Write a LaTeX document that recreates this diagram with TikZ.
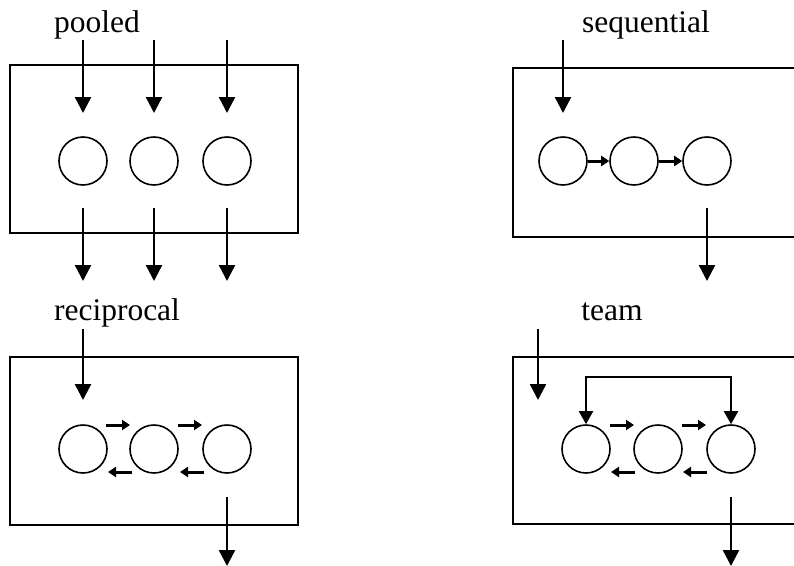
\documentclass[tikz,border=0pt]{standalone}
\usepackage{fontspec}
\setmainfont{Liberation Serif}
\usetikzlibrary{arrows.meta}
\begin{document}
\begin{tikzpicture}[x=1pt,y=-1pt,
  frame/.style={draw,line width=1.8pt},
  unit/.style={draw,circle,line width=1.6pt,minimum size=48pt,inner sep=0pt},
  flow/.style={line width=2.4pt,-{Triangle[width=16pt,length=16pt]}},
  link/.style={line width=3pt,-{Triangle[width=10pt,length=8pt]}},
  loop/.style={line width=2pt,{Triangle[width=14pt,length=13pt]}-{Triangle[width=14pt,length=13pt]}},
  title/.style={anchor=base,font=\fontsize{31.5}{36}\selectfont}]
\useasboundingbox (0,0) rectangle (794,565);
\clip (0,0) rectangle (794,565);

% ---------- pooled ----------
\node[title] (tp) at (97,32) {pooled};
\draw[frame] (10,65) rectangle (298,233);
\foreach \i/\x in {1/83,2/154,3/227}{
  \node[unit] (p\i) at (\x,161) {};
  \coordinate (pa\i) at (\x,40);  \coordinate (pb\i) at (\x,113);
  \coordinate (pc\i) at (\x,208); \coordinate (pd\i) at (\x,281);
  \draw[flow] (pa\i) -- (pb\i);
  \draw[flow] (pc\i) -- (pd\i);
}

% ---------- sequential ----------
\node[title] (ts) at (646,32) {sequential};
\draw[frame] (513,68) rectangle (810,237);
\node[unit] (s1) at (563,161) {};
\node[unit] (s2) at (634,161) {};
\node[unit] (s3) at (707,161) {};
\coordinate (sa) at (563,40);  \coordinate (sb) at (563,113);
\coordinate (sc) at (707,208); \coordinate (sd) at (707,281);
\draw[flow] (sa) -- (sb);
\draw[flow] (sc) -- (sd);
\draw[link] (s1) -- (s2);
\draw[link] (s2) -- (s3);

% ---------- reciprocal ----------
\node[title] (tr) at (117,320) {reciprocal};
\draw[frame] (10,357) rectangle (298,525);
\node[unit] (r1) at (83,449) {};
\node[unit] (r2) at (154,449) {};
\node[unit] (r3) at (227,449) {};
\coordinate (ra) at (83,329);  \coordinate (rb) at (83,400);
\coordinate (rc) at (227,497); \coordinate (rd) at (227,566);
\draw[flow] (ra) -- (rb);
\draw[flow] (rc) -- (rd);
\coordinate (r12a) at (106,425); \coordinate (r12b) at (130,425);
\coordinate (r23a) at (178,425); \coordinate (r23b) at (202,425);
\coordinate (r21a) at (132,472); \coordinate (r21b) at (108,472);
\coordinate (r32a) at (204,472); \coordinate (r32b) at (180,472);
\draw[link] (r12a) -- (r12b);
\draw[link] (r23a) -- (r23b);
\draw[link] (r21a) -- (r21b);
\draw[link] (r32a) -- (r32b);

% ---------- team ----------
\node[title] (tt) at (612,320) {team};
\draw[frame] (513,357) rectangle (810,524);
\node[unit] (m1) at (586,449) {};
\node[unit] (m2) at (658,449) {};
\node[unit] (m3) at (731,449) {};
\coordinate (ma) at (538,329); \coordinate (mb) at (538,400);
\coordinate (mc) at (731,497); \coordinate (md) at (731,566);
\draw[flow] (ma) -- (mb);
\draw[flow] (mc) -- (md);
\coordinate (mtop) at (658,377);
\draw[loop] (m1.north) |- (mtop) -| (m3.north);
\coordinate (m12a) at (610,425); \coordinate (m12b) at (634,425);
\coordinate (m23a) at (682,425); \coordinate (m23b) at (706,425);
\coordinate (m21a) at (635,472); \coordinate (m21b) at (611,472);
\coordinate (m32a) at (707,472); \coordinate (m32b) at (683,472);
\draw[link] (m12a) -- (m12b);
\draw[link] (m23a) -- (m23b);
\draw[link] (m21a) -- (m21b);
\draw[link] (m32a) -- (m32b);
\end{tikzpicture}
\end{document}
